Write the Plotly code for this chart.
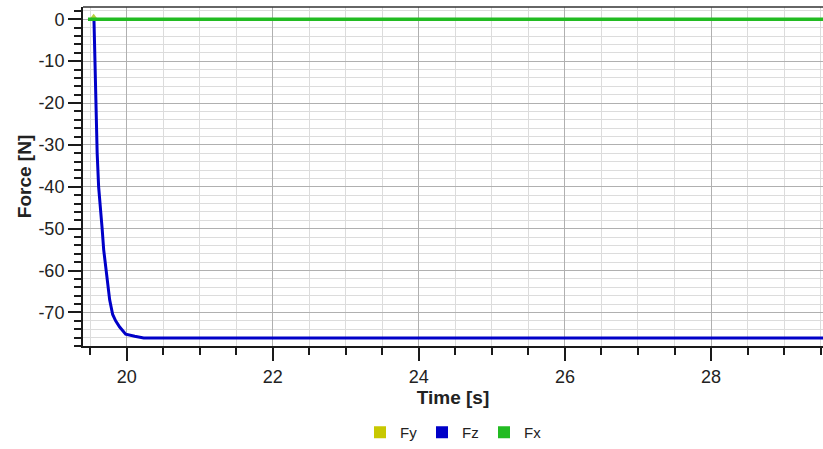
import plotly.graph_objects as go

# Sampled force signals (time in s, force in N)
t_fz = [19.552, 19.566, 19.580, 19.596, 19.616, 19.644, 19.664, 19.685, 19.712,
        19.740, 19.767, 19.808, 19.849, 19.904, 19.986, 20.110, 20.233, 29.533]
fz = [0.0, -11.4, -22.4, -32.0, -40.0, -45.0, -50.0, -55.0, -59.0,
      -63.0, -67.0, -70.5, -72.0, -73.5, -75.2, -75.7, -76.1, -76.1]

t_fx = [19.47, 29.533]
fx = [0.0, 0.0]

t_fy = [19.548]
fy = [0.5]

x_ticks = [20, 22, 24, 26, 28]
y_ticks = [0, -10, -20, -30, -40, -50, -60, -70]

names = ["Fy", "Fz", "Fx"]
colors = {"Fy": "#c8c800", "Fz": "#0000c8", "Fx": "#22bb22"}

font_family = "Liberation Sans, Arial, sans-serif"

fig = go.Figure()
fig.add_trace(go.Scatter(x=t_fy, y=fy, name="Fy", mode="markers", showlegend=False,
                         marker=dict(color="#b8d040", size=7, symbol="triangle-up")))
fig.add_trace(go.Scatter(x=t_fz, y=fz, name="Fz", mode="lines", showlegend=False,
                         line=dict(color=colors["Fz"], width=3)))
fig.add_trace(go.Scatter(x=t_fx, y=fx, name="Fx", mode="lines", showlegend=False,
                         line=dict(color=colors["Fx"], width=3.5)))

# legend entries drawn as square swatches
for n in names:
    fig.add_trace(go.Scatter(x=[None], y=[None], name=n, mode="markers",
                             marker=dict(color=colors[n], size=12, symbol="square")))

axis_common = dict(
    showline=True, linecolor="#1a1a1a", linewidth=2,
    ticks="outside", tickcolor="#1a1a1a", tickwidth=1.5, ticklen=13,
    gridcolor="#b0b0b0", gridwidth=1,
    zeroline=False,
    tickfont=dict(family=font_family, size=18, color="#222222"),
)

fig.update_xaxes(
    range=[19.402, 29.533], tickmode="array", tickvals=x_ticks,
    ticktext=[str(v) for v in x_ticks],
    minor=dict(dtick=0.5, tick0=20, ticks="outside", ticklen=7, tickcolor="#1a1a1a",
               tickwidth=1.5, showgrid=True, gridcolor="#dcdcdc", gridwidth=1),
    title=dict(text="<b>Time [s]</b>", font=dict(family=font_family, size=19, color="#222222"),
               standoff=5),
    **axis_common,
)
fig.update_yaxes(
    range=[-78.02, 2.93], tickmode="array", tickvals=y_ticks,
    ticktext=[str(v) for v in y_ticks],
    minor=dict(dtick=2, tick0=0, ticks="outside", ticklen=7, tickcolor="#1a1a1a",
               tickwidth=1.5, showgrid=True, gridcolor="#dcdcdc", gridwidth=1),
    title=dict(text="<b>Force [N]</b>", font=dict(family=font_family, size=19, color="#222222"),
               standoff=2),
    **axis_common,
)

# top border of the plotting area
fig.add_shape(type="line", xref="paper", yref="paper", x0=0, x1=1, y0=1, y1=1,
              line=dict(color="#333333", width=1.5))

fig.update_layout(
    width=823, height=449,
    margin=dict(l=83, r=0, t=7, b=102),
    plot_bgcolor="white", paper_bgcolor="white",
    font=dict(family=font_family, color="#222222"),
    showlegend=True,
    legend=dict(orientation="h", x=0.5, xanchor="center", y=-0.255, yanchor="middle",
                font=dict(family=font_family, size=15, color="#222222"),
                itemwidth=30, entrywidth=17, entrywidthmode="pixels",
                traceorder="normal"),
)

fig.write_html("out.html")
